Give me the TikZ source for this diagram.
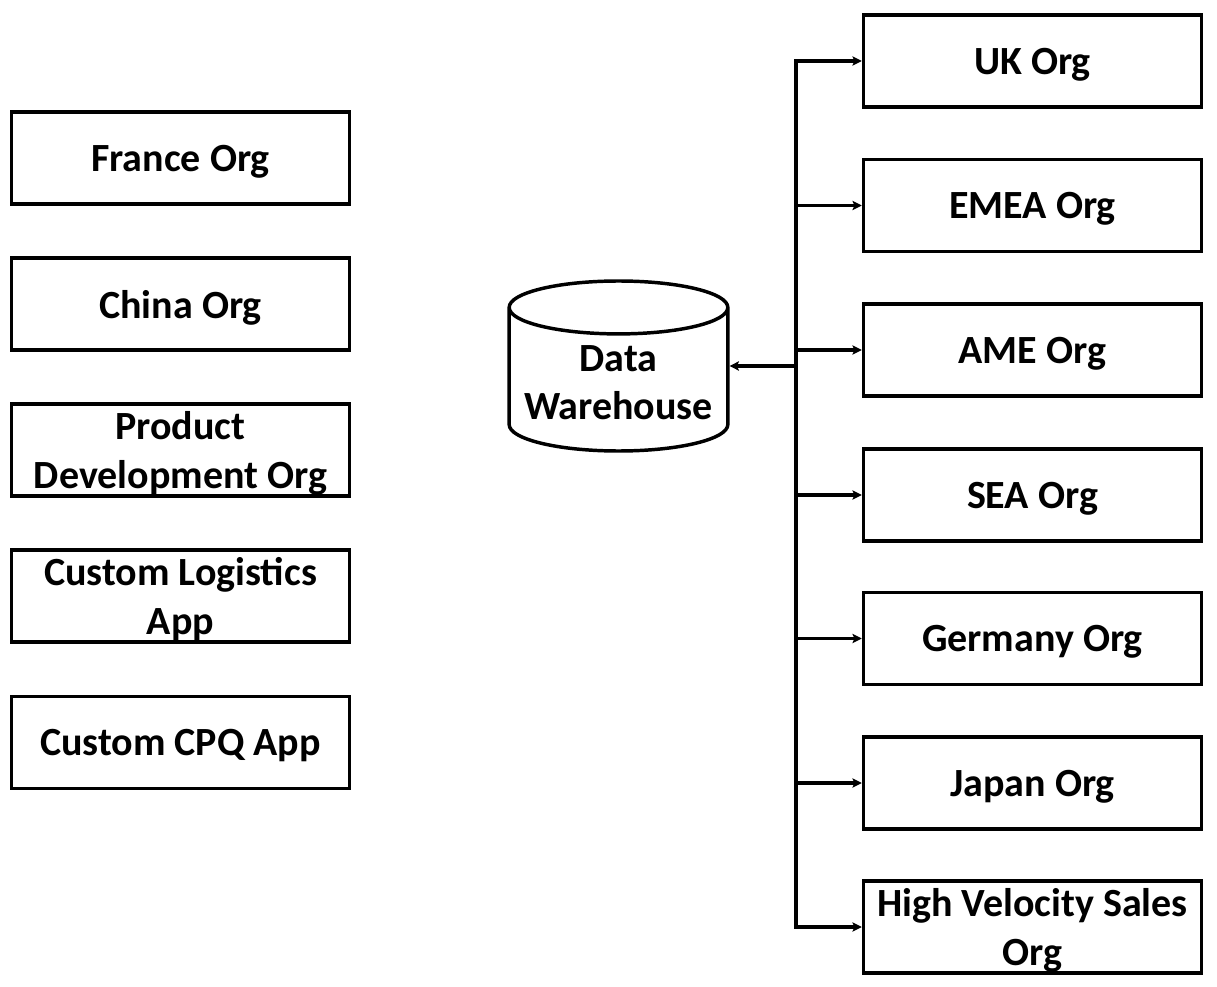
\documentclass[tikz,border=0pt]{standalone}
\usepackage{fontspec}
\setmainfont{Carlito}
\usetikzlibrary{shapes.geometric,arrows.meta}

\begin{document}
\begin{tikzpicture}[
  x=0.75pt,
  y=-0.75pt,
  box/.style={
      rectangle,
      draw,
      line width=2.6pt,
      text centered,
      align=center,
      inner xsep=2pt,
      inner ysep=0pt,
      text depth=0pt,
      minimum width=253.5pt,
      minimum height=69pt,
      font=\fontsize{30}{36.6}\selectfont\bfseries,
      fill=white
  },
  store/.style={
      cylinder,
      shape border rotate=90,
      shape aspect=0.28,
      draw,
      line width=2.6pt,
      inner sep=0pt,
      minimum width=164pt,
      minimum height=127.5pt,
      font=\fontsize{30}{36.6}\selectfont\bfseries,
      fill=white
  },
  arrow/.style={
      ->,
      line width=2.3pt,
      >={Stealth[length=7pt,width=7pt,inset=1.5pt]}
  }
]

\useasboundingbox (0,0) rectangle (1217,987);

% ==================================================
% Left Side : Source Orgs and Apps
% ==================================================

\node[box] (france) at (180.5,158) {France Org};

\node[box] (china) at (180.5,304) {China Org};

\node[box] (proddev) at (180.5,450)
{
Product\\
Development Org
};

\node[box] (logistics) at (180.5,596)
{
Custom Logistics\\
App
};

\node[box] (cpq) at (180.5,742.5) {Custom CPQ App};

% ==================================================
% Middle : Data Warehouse
% ==================================================

\node[store, anchor=shape center] (dw) at (618.5,366)
{
\raisebox{-10.5pt}[0pt][0pt]{%
\begin{tabular}{@{}c@{}}Data\\Warehouse\end{tabular}}
};

\coordinate (bus) at (796,0);

% ==================================================
% Right Side : Regional Orgs
% ==================================================

\node[box] (uk) at (1032.5,61) {UK Org};

\node[box] (emea) at (1032.5,205.5) {EMEA Org};

\node[box] (ame) at (1032.5,350) {AME Org};

\node[box] (sea) at (1032.5,495) {SEA Org};

\node[box] (germany) at (1032.5,638.5) {Germany Org};

\node[box] (japan) at (1032.5,783) {Japan Org};

\node[box] (hvs) at (1032.5,927)
{
High Velocity Sales\\
Org
};

% ==================================================
% Connections
% ==================================================

\draw[arrow, <->]
(uk.west)
-| (bus |- hvs.west)
-- (hvs.west);

\draw[arrow]
(bus |- emea.west)
-- (emea.west);

\draw[arrow]
(bus |- ame.west)
-- (ame.west);

\draw[arrow]
(bus |- sea.west)
-- (sea.west);

\draw[arrow]
(bus |- germany.west)
-- (germany.west);

\draw[arrow]
(bus |- japan.west)
-- (japan.west);

\draw[arrow]
(bus |- dw.shape center)
-- (dw.shape center -| dw.east);

\end{tikzpicture}
\end{document}
